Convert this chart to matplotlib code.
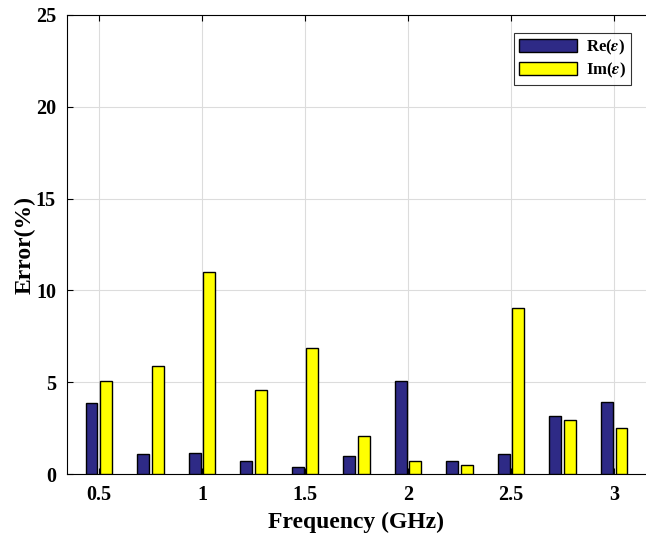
import matplotlib.pyplot as plt
import numpy as np

# Relative error of the extracted permittivity, per frequency point
freq_ghz = [0.5, 0.75, 1.0, 1.25, 1.5, 1.75, 2.0, 2.25, 2.5, 2.75, 3.0]
err_re = [3.84, 1.07, 1.14, 0.72, 0.36, 0.99, 5.07, 0.71, 1.07, 3.17, 3.91]
err_im = [5.07, 5.87, 11.0, 4.57, 6.85, 2.07, 0.71, 0.49, 9.02, 2.95, 2.52]

xticks = [0.5, 1, 1.5, 2, 2.5, 3]
xtick_labels = ["0.5", "1", "1.5", "2", "2.5", "3"]
yticks = [0, 5, 10, 15, 20, 25]

plt.rcParams["font.family"] = ["Liberation Serif", "DejaVu Serif"]
plt.rcParams["font.weight"] = "bold"
plt.rcParams["mathtext.fontset"] = "stix"

fig = plt.figure(figsize=(6.46, 5.36), dpi=100)
ax = fig.add_axes([67 / 646, 62 / 536, 1 - 67 / 646, (474 - 15) / 536])

x = np.array(freq_ghz)
w = 0.058
off = 0.036
ax.bar(x - off, err_re, width=w, color="#2e2a86", edgecolor="black",
       linewidth=1.0, label=r"Re($\epsilon$)", zorder=3)
ax.bar(x + off, err_im, width=w, color="#ffff00", edgecolor="black",
       linewidth=1.0, label=r"Im($\epsilon$)", zorder=3)

ax.set_xlim(0.345, 3.155)
ax.set_ylim(0, 25)
ax.set_xticks(xticks)
ax.set_xticklabels(xtick_labels)
ax.set_yticks(yticks)
ax.tick_params(direction="in", top=True, length=4, labelsize=14.5, pad=8)
for lbl in ax.get_xticklabels() + ax.get_yticklabels():
    lbl.set_fontweight("bold")

ax.grid(True, color="#dcdcdc", linewidth=0.8, zorder=0)
ax.set_axisbelow(True)
ax.spines["right"].set_visible(False)
for s in ("top", "bottom", "left"):
    ax.spines[s].set_linewidth(0.8)

ax.set_xlabel("Frequency (GHz)", fontsize=17, fontweight="bold", labelpad=5)
ax.set_ylabel("Error(%)", fontsize=17, fontweight="bold", labelpad=0)

leg = ax.legend(loc="upper right", bbox_to_anchor=(0.974, 0.961),
                bbox_transform=ax.transAxes, fontsize=12, frameon=True,
                fancybox=False, edgecolor="black", handlelength=3.5,
                handleheight=0.85, handletextpad=0.5, borderpad=0.3,
                borderaxespad=0, labelspacing=0.2)
leg.get_frame().set_linewidth(0.8)
for t in leg.get_texts():
    t.set_fontweight("bold")

fig.savefig("out.png", dpi=100)
